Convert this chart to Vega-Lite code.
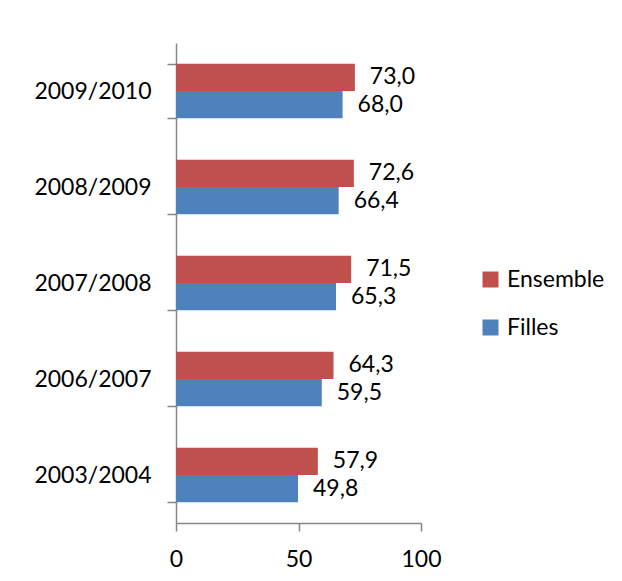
{
  "$schema": "https://vega.github.io/schema/vega-lite/v6.json",
  "autosize": "none",
  "width": 245,
  "height": 480,
  "padding": {"left": 176, "top": 43, "right": 201, "bottom": 58},
  "background": "white",
  "config": {
    "font": "Lato",
    "view": {"stroke": null},
    "locale": {"number": {"decimal": ",", "thousands": " ", "grouping": [3], "currency": ["", " €"]}},
    "axis": {"domainColor": "#868686", "tickColor": "#868686", "domainWidth": 1.5, "tickWidth": 1.5, "labelFont": "Lato", "labelFontSize": 23, "labelColor": "#000000", "grid": false, "title": null}
  },
  "data": {
    "values": [
      {"annee": "2009/2010", "serie": "Ensemble", "valeur": 73.0},
      {"annee": "2009/2010", "serie": "Filles", "valeur": 68.0},
      {"annee": "2008/2009", "serie": "Ensemble", "valeur": 72.6},
      {"annee": "2008/2009", "serie": "Filles", "valeur": 66.4},
      {"annee": "2007/2008", "serie": "Ensemble", "valeur": 71.5},
      {"annee": "2007/2008", "serie": "Filles", "valeur": 65.3},
      {"annee": "2006/2007", "serie": "Ensemble", "valeur": 64.3},
      {"annee": "2006/2007", "serie": "Filles", "valeur": 59.5},
      {"annee": "2003/2004", "serie": "Ensemble", "valeur": 57.9},
      {"annee": "2003/2004", "serie": "Filles", "valeur": 49.8}
    ]
  },
  "encoding": {
    "y": {
      "field": "annee", "type": "nominal",
      "sort": ["2009/2010", "2008/2009", "2007/2008", "2006/2007", "2003/2004"],
      "scale": {"paddingInner": 0.433, "paddingOuter": 0.2165},
      "axis": {"tickBand": "extent", "tickSize": 9, "labelPadding": 16}
    },
    "yOffset": {"field": "serie", "type": "nominal", "sort": ["Ensemble", "Filles"]},
    "x": {
      "field": "valeur", "type": "quantitative",
      "scale": {"domain": [0, 100], "nice": false},
      "axis": {"values": [0, 50, 100], "tickSize": 8, "labelPadding": 17, "labelFlush": false}
    }
  },
  "layer": [
    {
      "mark": {"type": "bar"},
      "encoding": {
        "color": {
          "field": "serie", "type": "nominal",
          "scale": {"domain": ["Ensemble", "Filles"], "range": ["#C0504D", "#4F81BD"]},
          "legend": {
            "title": null, "orient": "none", "legendX": 303, "legendY": 225,
            "symbolType": "square", "symbolSize": 256, "symbolStrokeWidth": 0,
            "labelFont": "Lato", "labelFontSize": 23, "labelColor": "#000000",
            "rowPadding": 24, "labelOffset": 5
          }
        }
      }
    },
    {
      "mark": {"type": "text", "align": "left", "baseline": "middle", "dx": 15, "fontSize": 23, "font": "Lato", "color": "#000000"},
      "encoding": {
        "text": {"field": "valeur", "type": "quantitative", "format": ".1f"}
      }
    }
  ]
}
